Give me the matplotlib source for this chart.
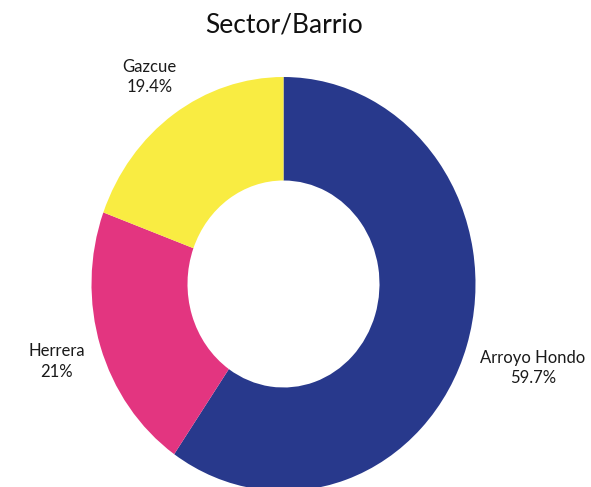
import numpy as np
import matplotlib
matplotlib.use("Agg")
import matplotlib.pyplot as plt

categories = ["Arroyo Hondo", "Herrera", "Gazcue"]
values = [59.7, 21.0, 19.4]
pct_labels = ["59.7%", "21%", "19.4%"]
colors = ["#28398C", "#E33580", "#F9EC42"]
label_dist = [1.36, 1.24, 1.22]

plt.rcParams['font.family'] = ['Lato', 'DejaVu Sans']

W, H = 591, 487
fig = plt.figure(figsize=(W / 100, H / 100), dpi=100)
ax = fig.add_axes([0, 0, 1, 1])

wedges, _ = ax.pie(values, colors=colors, startangle=90, counterclock=False,
                   radius=1.0, wedgeprops=dict(width=0.5, linewidth=0))

# elliptical donut: pixel geometry
cx, cy = 283.5, 284.0   # image coords (from top)
rx, ry = 192.0, 207.0
ax.set_aspect('auto')
ax.set_xlim(-cx / rx, (W - cx) / rx)
ax.set_ylim(-(H - cy) / ry, cy / ry)
ax.axis('off')

for w, cat, pl, d in zip(wedges, categories, pct_labels, label_dist):
    mid = np.deg2rad((w.theta1 + w.theta2) / 2)
    ax.text(d * np.cos(mid), d * np.sin(mid), f"{cat}\n{pl}", ha='center', va='center',
            fontsize=12, color='#1a1a1a', linespacing=1.35)

fig.text(0.48, 1 - 25 / H, "Sector/Barrio", ha='center', va='center', fontsize=19, color='#111111')

fig.savefig("out.png", dpi=100)
